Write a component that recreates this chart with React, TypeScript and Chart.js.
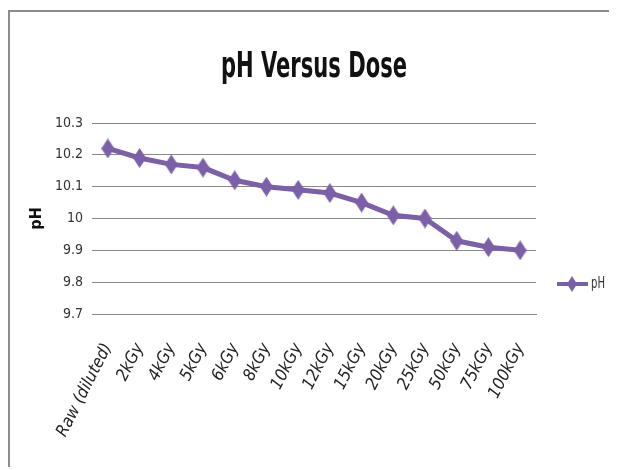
import React, { useEffect, useRef } from "react";
import { Chart, registerables } from "chart.js";

Chart.register(...registerables);

const categories = [
  "Raw (diluted)", "2kGy", "4kGy", "5kGy", "6kGy", "8kGy", "10kGy",
  "12kGy", "15kGy", "20kGy", "25kGy", "50kGy", "75kGy", "100kGy",
];
const phValues = [10.22, 10.19, 10.17, 10.16, 10.12, 10.1, 10.09, 10.08, 10.05, 10.01, 10.0, 9.93, 9.91, 9.9];
const yTicks = [9.7, 9.8, 9.9, 10, 10.1, 10.2, 10.3];
const seriesName = "pH";
const chartTitle = "pH Versus Dose";

const FONT = "'DejaVu Sans Condensed', 'Liberation Sans', sans-serif";
const PURPLE = "#7b5fa8";

function makeDiamond(w: number, h: number, color: string) {
  const c = document.createElement("canvas");
  c.width = w;
  c.height = h;
  const g = c.getContext("2d")!;
  g.fillStyle = color;
  g.beginPath();
  g.moveTo(w / 2, 0);
  g.lineTo(w, h / 2);
  g.lineTo(w / 2, h);
  g.lineTo(0, h / 2);
  g.closePath();
  g.fill();
  return c;
}

const titlePlugin = {
  id: "narrowTitle",
  afterDraw(chart: any) {
    const { ctx, chartArea } = chart;
    ctx.save();
    ctx.font = `bold 36px ${FONT}`;
    ctx.fillStyle = "#111";
    ctx.textBaseline = "middle";
    ctx.textAlign = "center";
    const w = ctx.measureText(chartTitle).width;
    const sx = 186 / w;
    const cx = 304;
    const cy = chartArea.top - 55;
    ctx.translate(cx, cy);
    ctx.scale(sx, 1);
    ctx.fillText(chartTitle, 0, 0);
    ctx.restore();
  },
};

const legendPlugin = {
  id: "customLegend",
  afterDraw(chart: any) {
    const { ctx, chartArea } = chart;
    const ds = chart.data.datasets[0];
    const x0 = chartArea.right + 21;
    const y = chartArea.top + 161;
    ctx.save();
    ctx.strokeStyle = ds.borderColor;
    ctx.lineWidth = 4;
    ctx.beginPath();
    ctx.moveTo(x0, y);
    ctx.lineTo(x0 + 31, y);
    ctx.stroke();
    ctx.fillStyle = ds.borderColor;
    ctx.beginPath();
    ctx.moveTo(x0 + 15, y - 8);
    ctx.lineTo(x0 + 20, y);
    ctx.lineTo(x0 + 15, y + 8);
    ctx.lineTo(x0 + 10, y);
    ctx.closePath();
    ctx.fill();
    ctx.fillStyle = "#333";
    ctx.font = `14px ${FONT}`;
    ctx.textBaseline = "middle";
    ctx.translate(x0 + 34, y);
    ctx.scale(0.8, 1.1);
    ctx.fillText(ds.label, 0, 0);
    ctx.restore();
  },
};

export default function App() {
  const ref = useRef<HTMLCanvasElement | null>(null);
  useEffect(() => {
    if (!ref.current) return;
    const diamond = makeDiamond(13, 20, PURPLE);
    const chart = new Chart(ref.current, {
      type: "line",
      data: {
        labels: categories,
        datasets: [
          {
            label: seriesName,
            data: phValues,
            borderColor: PURPLE,
            backgroundColor: PURPLE,
            pointBackgroundColor: PURPLE,
            pointBorderColor: PURPLE,
            borderWidth: 5,
            pointStyle: diamond as any,
            pointRadius: 8,
            tension: 0,
          },
        ],
      },
      options: {
        animation: false,
        responsive: false,
        layout: { padding: { left: 0, right: 81, top: 111, bottom: 0 } },
        plugins: {
          legend: { display: false },
          tooltip: { enabled: false },
          title: { display: false },
        },
        scales: {
          x: {
            offset: true,
            afterFit(axis: any) {
              axis.height = 153;
            },
            grid: { display: false },
            border: { display: true, color: "#888" },
            ticks: {
              color: "#222",
              font: { family: FONT, size: 17, style: "italic" },
              minRotation: 63,
              maxRotation: 63,
              padding: 18,
              autoSkip: false,
            },
          },
          y: {
            min: 9.7,
            max: 10.3,
            afterBuildTicks(axis: any) {
              axis.ticks = yTicks.map((v) => ({ value: v }));
            },
            afterFit(axis: any) {
              axis.width = 82;
            },
            grid: { color: "#888", drawTicks: false },
            border: { display: false },
            ticks: {
              color: "#333",
              font: { family: FONT, size: 14 },
              padding: 9,
              callback: (v: any) => String(Math.round(Number(v) * 10) / 10),
            },
            title: {
              display: true,
              text: seriesName,
              color: "#111",
              font: { family: FONT, size: 16, weight: "bold" },
              padding: { top: 17, bottom: 0 },
            },
          },
        },
      },
      plugins: [titlePlugin, legendPlugin],
    });
    return () => chart.destroy();
  }, []);
  return (
    <div
      style={{
        marginTop: 2,
        borderTop: "2px solid #8c8c8c",
        borderLeft: "2px solid #8c8c8c",
        width: 607,
        height: 455,
      }}
    >
      <canvas ref={ref} width={607} height={455} style={{ display: "block" }} />
    </div>
  );
}
